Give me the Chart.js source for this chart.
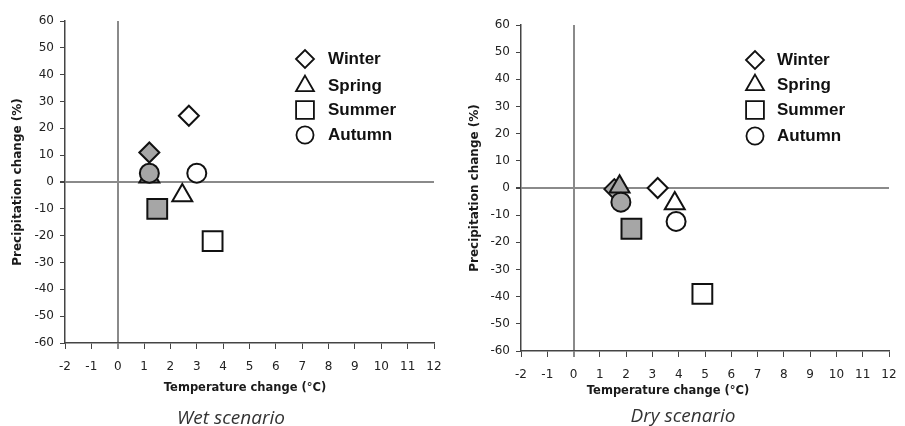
<!DOCTYPE html>
<html lang="en">
  <head>
    <meta charset="UTF-8" />
    <title>Temperature vs precipitation change</title>
    <script src="https://cdn.jsdelivr.net/npm/chart.js"></script>
    <style>
      body { margin: 0; background: #fff; width: 905px; height: 426px; position: relative; overflow: hidden; }
      .panel { position: absolute; top: 0; width: 450px; height: 426px; }
      .xtitle { position: absolute; font: bold 11.5px "DejaVu Sans", sans-serif; color: #1a1a1a; transform: translate(-50%, -50%); white-space: nowrap; }
      .sub { position: absolute; font: italic 19px "Open Sans", sans-serif; color: #333; transform: translate(-50%, -50%); white-space: nowrap; }
    </style>
  </head>
  <body>
    <div class="panel" style="left: 0"><canvas id="wetChart"></canvas></div>
    <div class="panel" style="left: 455px"><canvas id="dryChart"></canvas></div>

    <div class="xtitle" style="left: 245px; top: 387px">Temperature change (°C)</div>
    <div class="xtitle" style="left: 668px; top: 390px">Temperature change (°C)</div>
    <div class="sub" style="left: 231px; top: 417px">Wet scenario</div>
    <div class="sub" style="left: 683px; top: 415px">Dry scenario</div>

    <script>
      // seasons, in legend order
      const seasons = ["Winter", "Spring", "Summer", "Autumn"];
      const shapes = ["rectRot", "triangle", "rect", "circle"];

      // wet scenario: open (white) marker and grey marker per season
      const wetOpenX = [2.7, 2.45, 3.6, 3.0];
      const wetOpenY = [24.7, -5, -22, 3.3];
      const wetGreyX = [1.2, 1.2, 1.5, 1.2];
      const wetGreyY = [11, 2, -10, 3.3];

      // dry scenario
      const dryOpenX = [3.2, 3.85, 4.9, 3.9];
      const dryOpenY = [0, -5.7, -39, -12.3];
      const dryGreyX = [1.55, 1.75, 2.2, 1.8];
      const dryGreyY = [-0.4, 0.5, -15, -5.2];

      const xMin = -2, xMax = 12, yMin = -60, yMax = 60;

      const radii = { rectRot: 10, triangle: 11.5, rect: 14, circle: 9.5 };
      const GREY = "#a6a6a6";
      const tickFont = { family: "DejaVu Sans", size: 12 };

      function buildDatasets(openX, openY, greyX, greyY) {
        return seasons.map((s, i) => ({
          label: s,
          data: [
            { x: openX[i], y: openY[i] },
            { x: greyX[i], y: greyY[i] },
          ],
          pointStyle: shapes[i],
          pointRadius: radii[shapes[i]],
          pointBackgroundColor: ["#ffffff", GREY],
          pointBorderColor: "#111",
          pointBorderWidth: 2,
          order: 4 - i, // autumn drawn on top
        }));
      }

      // legend drawn inside the plot, like the original
      const insideLegend = {
        id: "insideLegend",
        afterDatasetsDraw(chart, args, opts) {
          const ctx = chart.ctx;
          ctx.save();
          seasons.forEach((s, i) => {
            const y = opts.rows[i];
            const style = {
              pointStyle: shapes[i],
              radius: radii[shapes[i]] * 0.9,
              rotation: 0,
              borderWidth: 1.8,
            };
            ctx.fillStyle = "#fff";
            ctx.strokeStyle = "#111";
            ctx.lineWidth = 1.8;
            Chart.helpers.drawPoint(ctx, style, opts.markerX, y);
            ctx.fillStyle = "#111";
            ctx.font = 'bold 17px "Liberation Sans", Arial, sans-serif';
            ctx.textBaseline = "middle";
            ctx.textAlign = "left";
            ctx.fillText(s, opts.textX, y);
          });
          ctx.restore();
        },
      };

      const zeroColor = (c) => (c.tick && c.tick.value === 0 ? "#8a8a8a" : "transparent");
      const zeroWidth = (c) => (c.tick && c.tick.value === 0 ? 2 : 1);

      function makeChart(id, datasets, pad, legend, yTitlePad) {
        return new Chart(document.getElementById(id), {
          type: "scatter",
          data: { datasets },
          plugins: [insideLegend],
          options: {
            responsive: true,
            maintainAspectRatio: false,
            animation: false,
            layout: { padding: pad },
            plugins: {
              legend: { display: false },
              tooltip: { enabled: false },
              insideLegend: legend,
            },
            scales: {
              x: {
                type: "linear",
                min: xMin,
                max: xMax,
                afterFit: (s) => {
                  s.height = 30;
                  s.paddingLeft = 0;
                  s.paddingRight = 0;
                },
                ticks: { stepSize: 1, padding: 11, color: "#222", font: tickFont },
                grid: {
                  color: zeroColor,
                  lineWidth: zeroWidth,
                  tickColor: (c) => (c.tick && c.tick.value === 0 ? "#8a8a8a" : "#444"),
                  tickLength: 6,
                },
                border: { color: "#444", width: 1.5 },
              },
              y: {
                type: "linear",
                min: yMin,
                max: yMax,
                afterFit: (s) => {
                  s.width = 64;
                },
                title: {
                  display: true,
                  text: "Precipitation change (%)",
                  color: "#1a1a1a",
                  font: { family: "DejaVu Sans", size: 12, weight: "bold" },
                  padding: { top: yTitlePad, bottom: 0 },
                },
                ticks: { stepSize: 10, padding: 6, color: "#222", font: tickFont },
                grid: {
                  color: zeroColor,
                  lineWidth: zeroWidth,
                  tickColor: "#444",
                  tickLength: 5,
                },
                border: { color: "#444", width: 1.5 },
              },
            },
          },
        });
      }

      makeChart(
        "wetChart",
        buildDatasets(wetOpenX, wetOpenY, wetGreyX, wetGreyY),
        { left: 1, right: 13, top: 21, bottom: 53 },
        { markerX: 305, textX: 328, rows: [59, 86, 110, 135] },
        10
      );

      makeChart(
        "dryChart",
        buildDatasets(dryOpenX, dryOpenY, dryGreyX, dryGreyY),
        { left: 2, right: 7, top: 25, bottom: 45 },
        { markerX: 300, textX: 322, rows: [60, 85, 110, 136] },
        11
      );
    </script>
  </body>
</html>
